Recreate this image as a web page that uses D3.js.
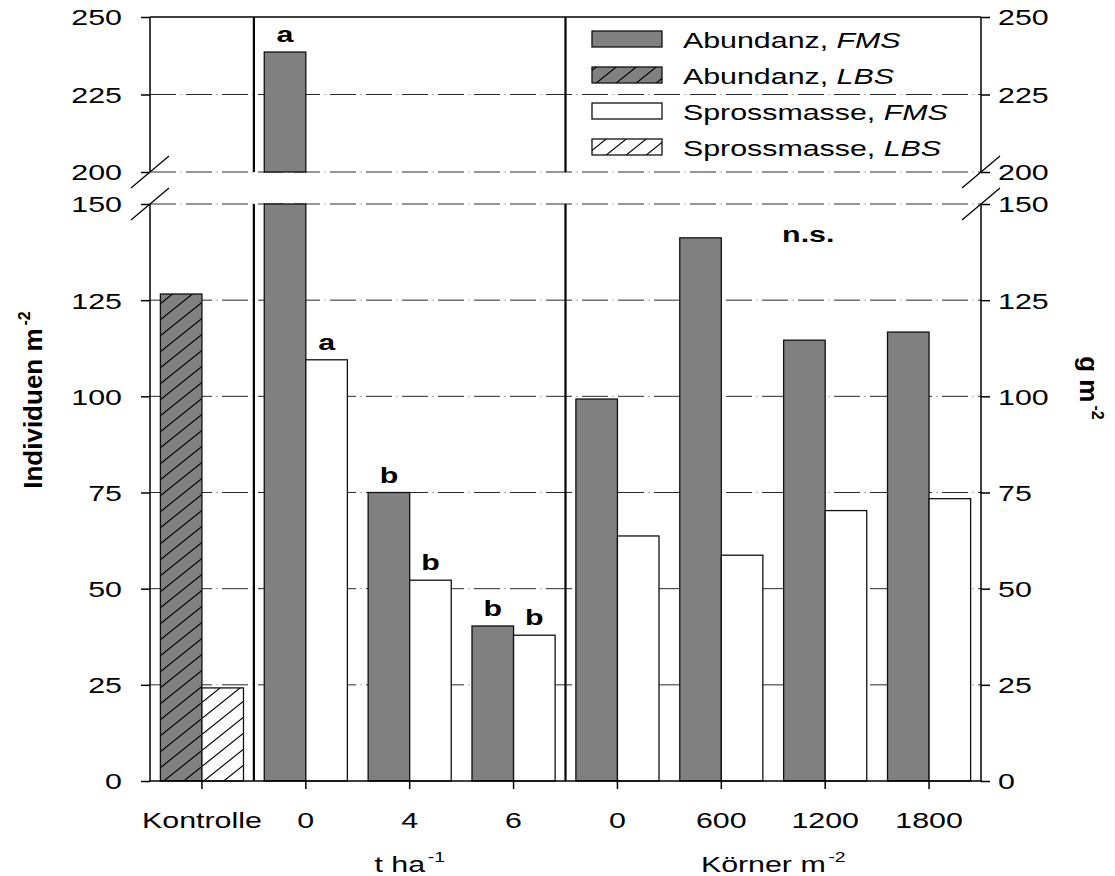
<!DOCTYPE html>
<html>
<head>
<meta charset="utf-8">
<script src="https://cdn.jsdelivr.net/npm/d3@7"></script>
<style>
  body { margin: 0; background: #fff; }
  svg { display: block; }
  text { font-family: "Liberation Sans", Arial, sans-serif; fill: #000; }
</style>
</head>
<body>
<svg id="chart" width="1115" height="876"></svg>
<script>
// ---- data ----
const categories   = ["Kontrolle", "0", "4", "6", "0", "600", "1200", "1800"];
const verfahren    = ["LBS", "FMS", "FMS", "FMS", "FMS", "FMS", "FMS", "FMS"];
const abundanz     = [126.6, 238.7, 75.0, 40.3, 99.3, 141.2, 114.6, 116.7];   // Individuen m-2
const sprossmasse  = [24.2, 109.5, 52.2, 37.9, 63.7, 58.7, 70.3, 73.4];      // g m-2
const abundanzSig  = ["", "a", "b", "b", "", "", "", ""];
const sprossSig    = ["", "a", "b", "b", "", "", "", ""];
const lowerTicks   = [0, 25, 50, 75, 100, 125, 150];
const upperTicks   = [200, 225, 250];
const lowerGrid    = [25, 50, 75, 100, 125, 150];
const upperGrid    = [200, 225];
const groupTitles  = [
  { text: "t ha", sup: "-1", from: 1, to: 3 },
  { text: "Körner m", sup: "-2", from: 4, to: 7 }
];
const separators   = [1, 4];           // group boundaries (before these categories)
const legendLabels = [
  { main: "Abundanz, ", it: "FMS", series: "abundanz", proc: "FMS" },
  { main: "Abundanz, ", it: "LBS", series: "abundanz", proc: "LBS" },
  { main: "Sprossmasse, ", it: "FMS", series: "spross", proc: "FMS" },
  { main: "Sprossmasse, ", it: "LBS", series: "spross", proc: "LBS" }
];

// ---- layout ----
const SX = 1.38;                        // horizontal stretch of lettering
const left = 150, right = 981;
const svg = d3.select("#chart");

const x0 = d3.scaleBand().domain(d3.range(categories.length)).range([left, right]).padding(0);
const x1 = d3.scaleBand().domain(["abundanz", "spross"]).range([0, x0.bandwidth()])
  .paddingInner(0).paddingOuter(0.25);

const yLow = d3.scaleLinear().domain([0, 150]).range([781, 204]);
const yUp  = d3.scaleLinear().domain([200, 250]).range([172, 17]);

// ---- patterns ----
const defs = svg.append("defs");
function hatch(id, bg) {
  const p = defs.append("pattern").attr("id", id).attr("patternUnits", "userSpaceOnUse")
    .attr("width", 20).attr("height", 16);
  p.append("rect").attr("width", 20).attr("height", 16).attr("fill", bg);
  p.append("path").attr("d", "M0,16L20,0M-5,4L5,-4M15,20L25,12")
    .attr("stroke", "#000").attr("stroke-width", 1.1).attr("fill", "none");
}
hatch("hatchGrey", "#808080");
hatch("hatchWhite", "#ffffff");

function fillOf(series, proc) {
  if (series === "abundanz") return proc === "LBS" ? "url(#hatchGrey)" : "#808080";
  return proc === "LBS" ? "url(#hatchWhite)" : "#ffffff";
}

// ---- grid lines: long dash with a faint dot in each gap ----
const gridYs = lowerGrid.map(v => yLow(v)).concat(upperGrid.map(v => yUp(v)));
const grid = svg.append("g").attr("stroke-width", 1);
gridYs.forEach(y => {
  grid.append("line").attr("x1", left).attr("x2", right).attr("y1", y).attr("y2", y)
    .attr("stroke", "#2a2a2a").attr("stroke-dasharray", "26,10");
  grid.append("line").attr("x1", left).attr("x2", right).attr("y1", y).attr("y2", y)
    .attr("stroke", "#b0b0b0").attr("stroke-dasharray", "2,34").attr("stroke-dashoffset", -30);
});

// ---- bars ----
const bars = [];
categories.forEach((c, i) => {
  bars.push({ i, series: "abundanz", value: abundanz[i], proc: verfahren[i], sig: abundanzSig[i] });
  bars.push({ i, series: "spross", value: sprossmasse[i], proc: verfahren[i], sig: sprossSig[i] });
});

const barG = svg.append("g");
bars.forEach(d => {
  const xb = x0(d.i) + x1(d.series);
  const w = x1.bandwidth();
  const fill = fillOf(d.series, d.proc);
  if (d.value <= 150) {
    barG.append("rect").attr("x", xb).attr("y", yLow(d.value))
      .attr("width", w).attr("height", yLow(0) - yLow(d.value))
      .attr("fill", fill).attr("stroke", "#111").attr("stroke-width", 1.3);
  } else {
    barG.append("rect").attr("x", xb).attr("y", yLow(150))
      .attr("width", w).attr("height", yLow(0) - yLow(150))
      .attr("fill", fill).attr("stroke", "#111").attr("stroke-width", 1.3);
    barG.append("rect").attr("x", xb).attr("y", yUp(d.value))
      .attr("width", w).attr("height", yUp(200) - yUp(d.value))
      .attr("fill", fill).attr("stroke", "#111").attr("stroke-width", 1.3);
  }
});

// significance letters
function yOf(v) { return v >= 200 ? yUp(v) : yLow(Math.min(v, 150)); }
bars.filter(d => d.sig).forEach(d => {
  const cx = x0(d.i) + x1(d.series) + x1.bandwidth() / 2;
  svg.append("text")
    .attr("transform", `translate(${cx},${yOf(d.value) - 10}) scale(${SX},1)`)
    .attr("text-anchor", "middle").attr("font-size", 22).attr("font-weight", "bold")
    .text(d.sig);
});
svg.append("text")
  .attr("transform", `translate(${x0(6) + 35},${yLow(140)}) scale(${SX},1)`)
  .attr("text-anchor", "middle").attr("font-size", 22).attr("font-weight", "bold")
  .text("n.s.");

// ---- group separators ----
const sepG = svg.append("g").attr("stroke", "#000").attr("stroke-width", 2.2);
separators.forEach(i => {
  const xs = x0(i);
  sepG.append("line").attr("x1", xs).attr("x2", xs).attr("y1", yUp(250)).attr("y2", yUp(200));
  sepG.append("line").attr("x1", xs).attr("x2", xs).attr("y1", yLow(150)).attr("y2", yLow(0));
});

// ---- frame and axes ----
const frame = svg.append("g").attr("stroke", "#000").attr("stroke-width", 1.5).attr("fill", "none");
frame.append("line").attr("x1", left).attr("x2", right).attr("y1", yUp(250)).attr("y2", yUp(250));
frame.append("line").attr("x1", left).attr("x2", right).attr("y1", yLow(0)).attr("y2", yLow(0));
[left, right].forEach(xa => {
  frame.append("line").attr("x1", xa).attr("x2", xa).attr("y1", yUp(250)).attr("y2", yUp(200));
  frame.append("line").attr("x1", xa).attr("x2", xa).attr("y1", yLow(150)).attr("y2", yLow(0));
  // break marks
  [yUp(200), yLow(150)].forEach(yb => {
    frame.append("line").attr("x1", xa - 19).attr("y1", yb + 16)
      .attr("x2", xa + 19).attr("y2", yb - 16).attr("stroke-width", 1.2);
  });
});

function styleAxis(g, side) {
  g.select(".domain").remove();
  g.selectAll(".tick line").attr("stroke", "#000").attr("stroke-width", 1.5);
  g.selectAll(".tick text")
    .attr("x", null).attr("y", null).attr("dy", "0.36em")
    .attr("font-size", 22)
    .attr("text-anchor", side === "left" ? "end" : "start")
    .attr("transform", `translate(${side === "left" ? -28 : 17},0) scale(${SX},1)`);
}
[[yLow, lowerTicks], [yUp, upperTicks]].forEach(([sc, tv]) => {
  svg.append("g").attr("transform", `translate(${left},0)`)
    .call(d3.axisLeft(sc).tickValues(tv).tickSize(9).tickFormat(d3.format("d")))
    .call(g => styleAxis(g, "left"));
  svg.append("g").attr("transform", `translate(${right},0)`)
    .call(d3.axisRight(sc).tickValues(tv).tickSize(9).tickFormat(d3.format("d")))
    .call(g => styleAxis(g, "right"));
});

// bottom category axis
svg.append("g").attr("transform", `translate(0,${yLow(0)})`)
  .call(d3.axisBottom(x0).tickSize(8).tickFormat(i => categories[i]))
  .call(g => {
    g.select(".domain").remove();
    g.selectAll(".tick line").attr("stroke", "#000").attr("stroke-width", 1.5);
    g.selectAll(".tick text").attr("y", null).attr("dy", null)
      .attr("font-size", 22).attr("text-anchor", "middle")
      .attr("transform", `translate(0,47) scale(${SX},1)`);
  });

// group titles under the category labels
groupTitles.forEach(t => {
  const cx = (x0(t.from) + x0(t.to) + x0.bandwidth()) / 2;
  const tx = svg.append("text")
    .attr("transform", `translate(${cx},872) scale(${SX},1)`)
    .attr("text-anchor", "middle").attr("font-size", 22);
  tx.append("tspan").text(t.text);
  tx.append("tspan").attr("dy", -10).attr("dx", 2).attr("font-size", 14).text(t.sup);
});

// y-axis titles
const yl = svg.append("text")
  .attr("transform", `translate(42,400) rotate(-90)`)
  .attr("text-anchor", "middle").attr("font-size", 26).attr("font-weight", "bold");
yl.append("tspan").text("Individuen m");
yl.append("tspan").attr("dy", -12).attr("dx", 3).attr("font-size", 16).text("-2");

const yr = svg.append("text")
  .attr("transform", `translate(1080,388) rotate(90)`)
  .attr("text-anchor", "middle").attr("font-size", 26).attr("font-weight", "bold");
yr.append("tspan").text("g m");
yr.append("tspan").attr("dy", -12).attr("dx", 3).attr("font-size", 16).text("-2");

// ---- legend ----
const lg = svg.append("g");
legendLabels.forEach((d, k) => {
  const yTop = 31 + k * 36;
  lg.append("rect").attr("x", 592).attr("y", yTop).attr("width", 70).attr("height", 16)
    .attr("fill", fillOf(d.series, d.proc)).attr("stroke", "#111").attr("stroke-width", 1.3);
  const t = lg.append("text")
    .attr("transform", `translate(683,${yTop + 17}) scale(${SX},1)`)
    .attr("font-size", 22);
  t.append("tspan").text(d.main);
  t.append("tspan").attr("font-style", "italic").text(d.it);
});
</script>
</body>
</html>
